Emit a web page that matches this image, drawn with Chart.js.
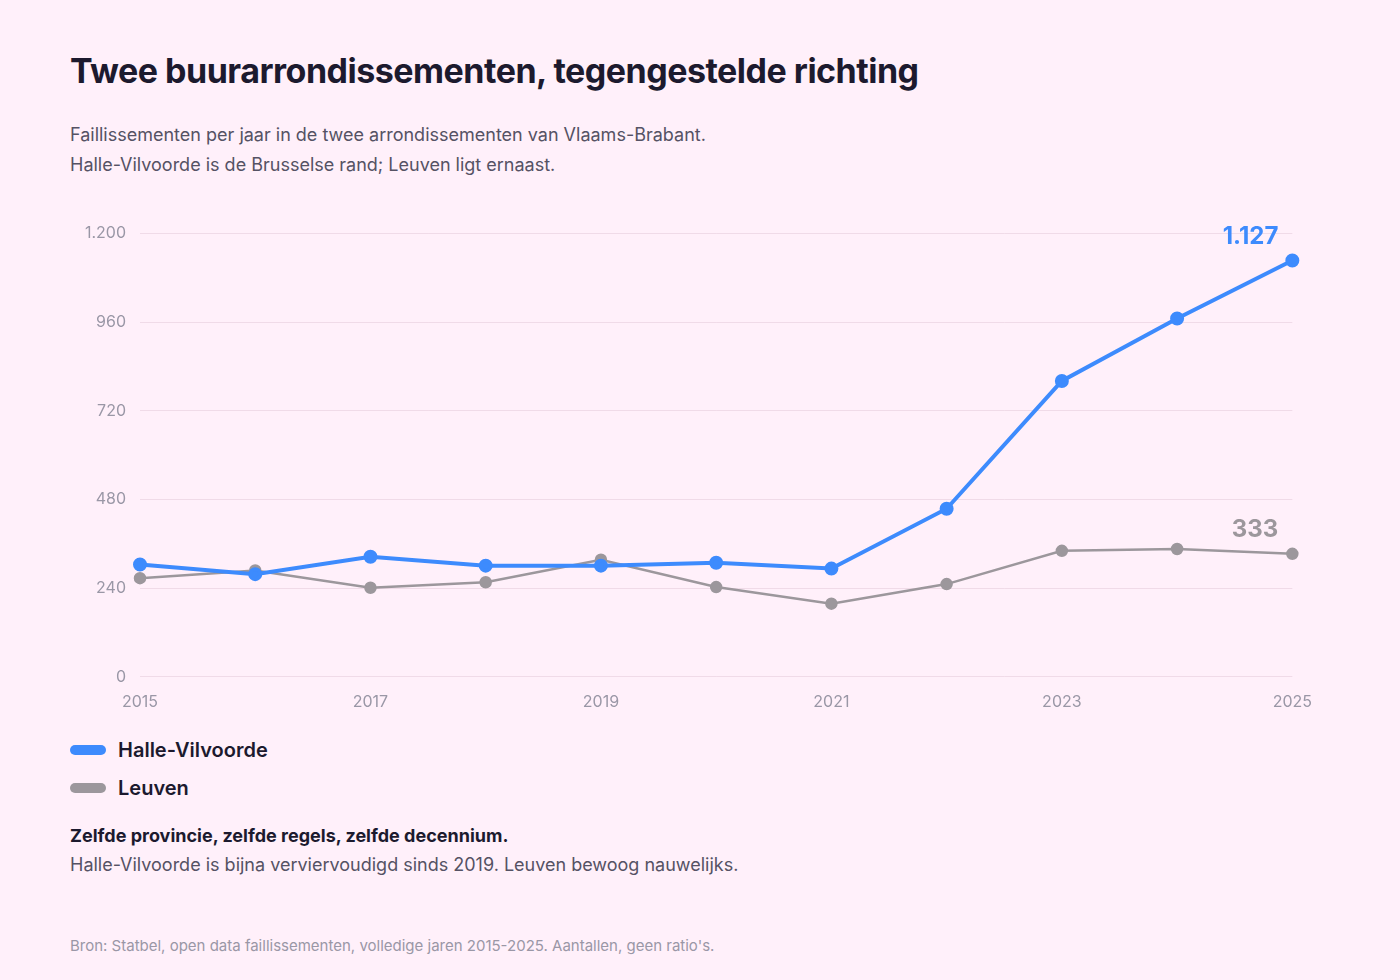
<!DOCTYPE html>
<html><head><meta charset="utf-8">
<script src="https://cdn.jsdelivr.net/npm/chart.js@4.4.0/dist/chart.umd.min.js"></script>
<style>
body{margin:0;background:#fff0fa;font-family:Inter,"Noto Sans",sans-serif;width:1400px;height:980px;position:relative;overflow:hidden}
.t{position:absolute;left:70px;top:50px;font-size:34px;font-weight:700;color:#1c1a2e;letter-spacing:-0.5px}
.s{position:absolute;left:70px;top:120px;font-size:18px;line-height:30px;color:#555264}
#wrap{position:absolute;left:70px;top:210px;width:1250px;height:510px}
.lg{position:absolute;left:70px;font-size:20px;font-weight:600;color:#1c1a2e;display:flex;align-items:center}
.lg i{display:inline-block;width:36px;height:10px;border-radius:5px;margin-right:12px}
.n1{position:absolute;left:70px;top:825px;font-size:18px;font-weight:700;color:#1c1a2e}
.n2{position:absolute;left:70px;top:854px;font-size:18px;color:#555264}
.src{position:absolute;left:70px;top:936px;font-size:15px;color:#9a97a6}
</style></head><body>
<div class="t">Twee buurarrondissementen, tegengestelde richting</div>
<div class="s">Faillissementen per jaar in de twee arrondissementen van Vlaams-Brabant.<br>Halle-Vilvoorde is de Brusselse rand; Leuven ligt ernaast.</div>
<div id="wrap"><canvas id="c"></canvas></div>
<div class="lg" style="top:738px"><i style="background:#3d8bfd"></i>Halle-Vilvoorde</div>
<div class="lg" style="top:776px"><i style="background:#9c979c"></i>Leuven</div>
<div class="n1">Zelfde provincie, zelfde regels, zelfde decennium.</div>
<div class="n2">Halle-Vilvoorde is bijna verviervoudigd sinds 2019. Leuven bewoog nauwelijks.</div>
<div class="src">Bron: Statbel, open data faillissementen, volledige jaren 2015-2025. Aantallen, geen ratio's.</div>
<script>
const years=["2015","2016","2017","2018","2019","2020","2021","2022","2023","2024","2025"];
const halle=[304,278,325,301,301,309,293,455,801,970,1127];
const leuven=[267,288,241,256,317,243,198,251,341,346,333];
const endLabels=["1.127","333"];
const endColors=["#3d8bfd","#9c979c"];
const endPlugin={id:'end',afterDatasetsDraw(ch){const ctx=ch.ctx;ch.data.datasets.forEach((d,i)=>{const m=ch.getDatasetMeta(i);const p=m.data[m.data.length-1];ctx.save();ctx.font='700 24px Inter';ctx.fillStyle=endColors[i];ctx.textAlign='right';ctx.textBaseline='bottom';ctx.fillText(endLabels[i],p.x-14,p.y-12);ctx.restore();});}};
new Chart(document.getElementById('c'),{type:'line',
data:{labels:years,datasets:[
{data:halle,borderColor:'#3d8bfd',backgroundColor:'#3d8bfd',borderWidth:4,pointRadius:5,pointHoverRadius:5,tension:0},
{data:leuven,borderColor:'#9c979c',backgroundColor:'#9c979c',borderWidth:2.5,pointRadius:5,pointHoverRadius:5,tension:0}]},
options:{responsive:true,maintainAspectRatio:false,animation:false,
layout:{padding:{top:16,right:20}},
plugins:{legend:{display:false},tooltip:{enabled:false}},
scales:{
x:{grid:{display:false},border:{display:false},ticks:{color:'#9a97a6',font:{family:'Inter',size:16},maxRotation:0,autoSkip:false,padding:8,callback:(v,i)=>i%2===0?years[i]:''}},
y:{min:0,max:1200,afterFit(s){s.width=70;},grid:{color:'#f0dbe8',drawTicks:false},border:{display:false},
ticks:{stepSize:240,color:'#9a97a6',font:{family:'Inter',size:16},padding:14,callback:v=>v.toLocaleString('nl-BE')}}}},
plugins:[endPlugin]});
</script></body></html>
